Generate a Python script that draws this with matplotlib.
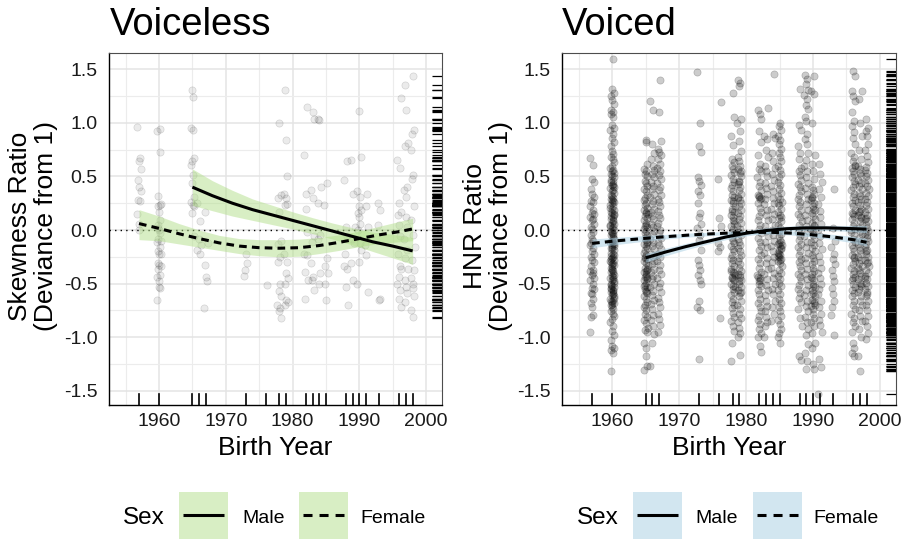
import numpy as np
import matplotlib
matplotlib.use("Agg")
import matplotlib.pyplot as plt
from matplotlib.collections import LineCollection
from matplotlib.transforms import blended_transform_factory
from matplotlib.patches import Rectangle

plt.rcParams['font.family'] = ['Liberation Sans', 'DejaVu Sans']

# ---------------- data ----------------
YEARS = [1957, 1960, 1965, 1966, 1967, 1973, 1976, 1978, 1979, 1982, 1983,
         1984, 1985, 1988, 1989, 1990, 1991, 1993, 1996, 1997, 1998]

# Voiceless: skewness ratio (deviance from 1), one list per birth year
vl_1957 = [0.96, 0.67, 0.64, 0.57, 0.47, 0.40, 0.36, 0.28, 0.27, 0.15, 0.06, 0.00]
vl_1960 = [0.94, 0.92, 0.73, 0.32, 0.24, 0.22, 0.17, 0.09, 0.05, 0.00, -0.03, -0.08,
           -0.11, -0.16, -0.22, -0.22, -0.31, -0.33, -0.34, -0.36, -0.42, -0.44, -0.48,
           -0.53, -0.54, -0.65, 0.23, 0.02, -0.10, -0.20]
vl_1965 = [1.31, 1.24, 0.95, 0.93, 0.67, 0.64, 0.61, 0.51, 0.44, 0.31, 0.26, 0.23, 0.22, 0.16, -0.06]
vl_1966 = [0.25, 0.08, -0.08, -0.14, -0.19, -0.22]
vl_1967 = [0.17, -0.12, -0.33, -0.44, -0.48, -0.73]
vl_1973 = [-0.22, -0.31, -0.37, -0.43]
vl_1976 = [-0.51]
vl_1978 = [1.00, 0.33, 0.30, 0.17, -0.10, -0.13, -0.25, -0.30, -0.50, -0.57, -0.62, -0.70,
           -0.73, -0.76, -0.82]
vl_1979 = [1.31, 0.84, 0.50, 0.34, 0.30, 0.24, 0.23, -0.22, -0.30, -0.40, -0.45, -0.50,
           -0.65, -0.67, -0.70]
vl_1982 = [1.15, 0.70, 0.34, 0.20, -0.02, -0.22, -0.23, -0.39, -0.47, -0.64]
vl_1983 = [1.10, 1.04, 0.37, 0.30, -0.06, -0.11, -0.31, -0.44, -0.47, -0.56]
vl_1984 = [1.04, 1.03, 0.40, 0.25, -0.05, -0.08, -0.40, -0.50]
vl_1985 = [0.44, 0.23, -0.26, -0.34, -0.40, -0.50, -0.65]
vl_1988 = [0.64, 0.47, 0.03, -0.06, -0.22, -0.34, -0.36, -0.53, -0.70]
vl_1989 = [0.65, 0.34, 0.03, -0.08, -0.12, -0.31, -0.47]
vl_1990 = [1.11, 0.68, 0.36, 0.31, 0.22, 0.19, 0.16, 0.12, 0.06, 0.00, -0.12, -0.19, -0.30, -0.50]
vl_1991 = [0.34, 0.22, 0.03, -0.14, -0.23, -0.58]
vl_1993 = [0.25, 0.19, 0.05, -0.64, -0.65]
vl_1996 = [1.23, 0.65, 0.58, 0.25, 0.17, 0.14, 0.05, -0.06, -0.22, -0.34, -0.36, -0.44,
           -0.50, -0.56, -0.64, -0.72]
vl_1997 = [1.35, 1.12, 0.81, 0.78, 0.40, 0.37, 0.31, 0.12, 0.03, -0.08, -0.19, -0.26,
           -0.36, -0.47, -0.53, -0.59, -0.67]
vl_1998 = [1.44, 0.93, 0.90, 0.75, 0.51, 0.48, 0.22, 0.09, -0.05, -0.16, -0.28, -0.37,
           -0.45, -0.50, -0.54, -0.62, -0.75, -0.81]

# Voiced: HNR ratio (deviance from 1), one list per birth year
vd_1957 = [0.67, 0.61, 0.48, 0.45, 0.38, 0.34, 0.31, 0.27, 0.26, 0.22, 0.19, 0.16, 0.15, 0.12,
           0.10, 0.09, 0.06, 0.03, 0.01, -0.02, -0.05, -0.08, -0.10, -0.12, -0.14, -0.17, -0.20,
           -0.22, -0.25, -0.28, -0.30, -0.34, -0.37, -0.38, -0.40, -0.42, -0.45, -0.47, -0.50,
           -0.54, -0.55, -0.59, -0.60, -0.64, -0.68, -0.72, -0.79, -0.81, -0.95]
vd_1960 = [1.60, 1.32, 1.28, 1.25, 1.21, 1.18, 1.12, 1.10, 1.08, 1.05, 0.98, 0.95, 0.93, 0.90,
           0.86, 0.82, 0.78, 0.74, 0.71, 0.68, 0.66, 0.63, 0.60, 0.58, 0.56, 0.55, 0.53, 0.52,
           0.50, 0.49, 0.47, 0.46, 0.45, 0.43, 0.42, 0.40, 0.39, 0.37, 0.36, 0.35, 0.33, 0.32,
           0.30, 0.29, 0.27, 0.26, 0.25, 0.23, 0.22, 0.20, 0.19, 0.17, 0.16, 0.15, 0.13, 0.12,
           0.10, 0.09, 0.07, 0.06, 0.05, 0.03, 0.02, 0.00, -0.01, -0.03, -0.04, -0.05, -0.07,
           -0.08, -0.10, -0.11, -0.12, -0.14, -0.15, -0.17, -0.18, -0.19, -0.21, -0.22, -0.24,
           -0.25, -0.26, -0.28, -0.29, -0.31, -0.32, -0.33, -0.35, -0.36, -0.38, -0.39, -0.40,
           -0.42, -0.43, -0.45, -0.46, -0.47, -0.49, -0.50, -0.52, -0.53, -0.55, -0.56, -0.58,
           -0.59, -0.61, -0.62, -0.64, -0.65, -0.67, -0.68, -0.70, -0.72, -0.74, -0.76, -0.78,
           -0.80, -0.83, -0.86, -0.90, -0.94, -0.98, -1.03, -1.08, -1.10, -1.12, -1.15, -1.32,
           0.41, 0.28, 0.14, 0.04, -0.06, -0.16, -0.23, -0.30, -0.37, -0.44, -0.51, -0.57,
           -0.63, -0.69, 0.21, 0.08, -0.02, -0.13, -0.27, -0.34, -0.48, -0.54, -0.60, -0.66]
vd_1965 = [0.84, 0.82, 0.62, 0.57, 0.55, 0.52, 0.50, 0.46, 0.44, 0.41, 0.38, 0.36, 0.33, 0.30,
           0.28, 0.25, 0.23, 0.21, 0.19, 0.17, 0.15, 0.13, 0.11, 0.09, 0.07, 0.05, 0.03, 0.01,
           -0.01, -0.03, -0.05, -0.07, -0.09, -0.11, -0.13, -0.15, -0.17, -0.19, -0.21, -0.23,
           -0.25, -0.27, -0.29, -0.31, -0.33, -0.35, -0.37, -0.39, -0.41, -0.43, -0.45, -0.47,
           -0.49, -0.51, -0.53, -0.55, -0.57, -0.59, -0.62, -0.64, -0.67, -0.70, -0.72, -0.75,
           -0.78, -0.81, -0.84, -0.87, -0.91, -0.93, -0.95, -1.05, -1.10, -1.18, -1.27, -1.31,
           0.16, 0.04, -0.12, -0.26, -0.38, -0.46, -0.52, -0.58, -0.36, -0.44]
vd_1966 = [1.20, 1.12, 0.80, 0.72, 0.66, 0.60, 0.56, 0.52, 0.49, 0.45, 0.41, 0.38, 0.34, 0.31,
           0.27, 0.24, 0.20, 0.17, 0.13, 0.10, 0.06, 0.03, -0.01, -0.04, -0.08, -0.11, -0.15,
           -0.18, -0.22, -0.25, -0.29, -0.32, -0.36, -0.39, -0.43, -0.46, -0.50, -0.53, -0.57,
           -0.61, -0.65, -0.69, -0.74, -0.79, -0.84, -0.90, -0.97, -1.05, -1.27]
vd_1967 = [1.40, 1.10, 0.83, 0.76, 0.73, 0.70, 0.66, 0.62, 0.58, 0.55, 0.51, 0.48, 0.44, 0.40,
           0.37, 0.33, 0.29, 0.26, 0.22, 0.18, 0.14, 0.11, 0.07, 0.04, 0.00, -0.03, -0.07, -0.11,
           -0.14, -0.18, -0.22, -0.25, -0.29, -0.33, -0.37, -0.41, -0.45, -0.49, -0.53, -0.58,
           -0.63, -0.67, -0.72, -0.78, -0.83, -0.89, -0.95]
vd_1973 = [1.47, 1.00, 0.78, 0.73, 0.49, 0.46, 0.42, 0.36, 0.33, 0.25, 0.16, 0.12, 0.06, 0.02,
           -0.05, -0.09, -0.19, -0.28, -0.33, -0.37, -0.42, -0.47, -0.50, -0.66, -0.72, -0.75, -1.20]
vd_1976 = [1.19, 0.48, 0.11, 0.04, -0.12, -0.16, -0.20, -0.82]
vd_1978 = [1.28, 1.05, 0.88, 0.79, 0.66, 0.63, 0.60, 0.57, 0.54, 0.51, 0.48, 0.45, 0.42, 0.39,
           0.36, 0.33, 0.31, 0.28, 0.25, 0.22, 0.20, 0.17, 0.14, 0.12, 0.09, 0.06, 0.04, 0.01,
           -0.02, -0.04, -0.07, -0.10, -0.12, -0.15, -0.18, -0.20, -0.23, -0.26, -0.28, -0.31,
           -0.34, -0.36, -0.39, -0.42, -0.44, -0.47, -0.50, -0.52, -0.55, -0.58, -0.61, -0.64,
           -0.67, -0.70, -0.73, -0.77, -0.81, -0.85, -0.90, -0.94, -1.05, -1.22, 0.27, 0.18,
           0.08, -0.38, -0.46, -0.53, -0.45, -0.40]
vd_1979 = [1.40, 1.37, 1.34, 1.04, 1.00, 0.92, 0.83, 0.74, 0.68, 0.64, 0.60, 0.57, 0.53, 0.50,
           0.46, 0.43, 0.40, 0.37, 0.34, 0.31, 0.28, 0.25, 0.22, 0.19, 0.16, 0.13, 0.10, 0.07,
           0.04, 0.01, -0.02, -0.05, -0.08, -0.11, -0.14, -0.17, -0.20, -0.23, -0.26, -0.29,
           -0.32, -0.35, -0.38, -0.41, -0.44, -0.47, -0.50, -0.53, -0.56, -0.59, -0.62, -0.66,
           -0.70, -0.74, -0.78, -0.82, -0.86, -0.91, -0.96, -1.00, -1.17, 0.55, 0.45, 0.30,
           -0.42, -0.48, -0.58]
vd_1982 = [1.12, 1.08, 1.04, 0.92, 0.82, 0.70, 0.62, 0.57, 0.55, 0.49, 0.45, 0.41, 0.37, 0.33,
           0.31, 0.29, 0.25, 0.21, 0.17, 0.13, 0.09, 0.05, 0.01, -0.03, -0.07, -0.11, -0.15,
           -0.19, -0.23, -0.27, -0.31, -0.35, -0.39, -0.42, -0.45, -0.48, -0.52, -0.56, -0.60,
           -0.64, -0.68, -0.72, -0.76, -0.80, -0.84, -0.88, -0.92, -0.96, -1.00, -1.08, -1.14,
           0.32, 0.30, -0.44, -0.47, -0.50]
vd_1983 = [1.14, 0.88, 0.85, 0.75, 0.68, 0.60, 0.55, 0.50, 0.44, 0.39, 0.34, 0.29, 0.24, 0.19,
           0.14, 0.09, 0.04, -0.01, -0.06, -0.11, -0.16, -0.21, -0.26, -0.31, -0.36, -0.41,
           -0.46, -0.51, -0.56, -0.61, -0.66, -0.71, -0.76, -0.81, -0.86, -0.90, -1.00]
vd_1984 = [1.46, 0.90, 0.86, 0.72, 0.64, 0.58, 0.52, 0.47, 0.41, 0.36, 0.30, 0.25, 0.20, 0.15,
           0.10, 0.05, 0.00, -0.05, -0.10, -0.15, -0.20, -0.25, -0.30, -0.35, -0.40, -0.45,
           -0.50, -0.55, -0.60, -0.66, -0.72, -0.78, -0.85]
vd_1985 = [1.00, 0.97, 0.93, 0.88, 0.84, 0.80, 0.76, 0.72, 0.68, 0.64, 0.60, 0.56, 0.52, 0.49,
           0.45, 0.42, 0.38, 0.35, 0.32, 0.29, 0.26, 0.23, 0.20, 0.17, 0.14, 0.11, 0.08, 0.05,
           0.02, -0.01, -0.04, -0.06, -0.09, -0.11, -0.13, -0.15, -0.17, -0.19, -0.21, -0.23,
           -0.25, -0.27, -0.29, -0.31, -0.34, -0.37, -0.40, -0.43, -0.46, -0.49, -0.52, -0.56,
           -0.60, -0.64, -0.68, -0.72, -0.76, -0.80, -0.84, -0.88, -0.92, -0.96, -1.00, -1.05,
           -0.12, -0.18, -0.24, -0.28, -0.14, -0.22, 0.12, 0.25]
vd_1988 = [1.32, 0.98, 0.93, 0.78, 0.72, 0.66, 0.58, 0.55, 0.51, 0.47, 0.43, 0.40, 0.36, 0.33,
           0.29, 0.26, 0.22, 0.19, 0.15, 0.12, 0.08, 0.05, 0.01, -0.02, -0.06, -0.09, -0.13,
           -0.16, -0.20, -0.23, -0.27, -0.30, -0.34, -0.37, -0.41, -0.44, -0.48, -0.51, -0.55,
           -0.59, -0.63, -0.67, -0.74, -0.82, -0.90, -1.18, -1.21]
vd_1989 = [1.45, 1.41, 1.36, 1.31, 1.26, 1.22, 1.17, 1.13, 1.05, 1.02, 0.90, 0.85, 0.80, 0.72,
           0.65, 0.60, 0.55, 0.49, 0.44, 0.39, 0.34, 0.29, 0.24, 0.19, 0.14, 0.09, 0.04, -0.01,
           -0.06, -0.11, -0.16, -0.21, -0.26, -0.31, -0.36, -0.41, -0.46, -0.51, -0.56, -0.61,
           -0.66, -0.71, -0.76, -0.81, -0.86, -0.92, -0.98, -1.06, -1.15, -1.22, -1.30]
vd_1990 = [1.44, 1.30, 1.27, 1.00, 0.70, 0.62, 0.55, 0.48, 0.40, 0.37, 0.34, 0.31, 0.28, 0.25,
           0.22, 0.19, 0.16, 0.13, 0.10, 0.07, 0.04, 0.01, -0.02, -0.05, -0.08, -0.11, -0.14,
           -0.17, -0.20, -0.23, -0.26, -0.29, -0.32, -0.35, -0.38, -0.41, -0.44, -0.47, -0.50,
           -0.53, -0.56, -0.59, -0.62, -0.65, -0.68, -0.71, -0.74, -0.78, -0.82, -0.86, -0.90,
           -0.96, -1.05, -1.10, -1.25, -1.30, 0.30, 0.20, 0.05, -0.45, -0.60, -0.66, -0.52, -0.70]
vd_1991 = [0.62, 0.52, 0.45, 0.38, 0.31, 0.24, 0.18, 0.12, 0.06, 0.00, -0.06, -0.12, -0.18,
           -0.24, -0.30, -0.35, -0.40, -0.45, -0.50, -0.55, -0.60, -0.66, -0.72, -0.78, -0.84,
           -0.89, -0.95, -1.20, -1.28, -1.53]
vd_1993 = [0.38, 0.02, -0.10, -0.16, -0.22, -0.27, -0.32, -0.37, -0.43, -0.48, -0.54, -0.60,
           -0.66, -0.72, -0.79, -0.98]
vd_1996 = [1.48, 1.44, 1.30, 1.25, 1.20, 1.10, 1.02, 0.97, 0.91, 0.86, 0.80, 0.72, 0.68, 0.64,
           0.61, 0.58, 0.55, 0.52, 0.49, 0.46, 0.43, 0.40, 0.37, 0.34, 0.31, 0.28, 0.25, 0.22,
           0.19, 0.16, 0.13, 0.10, 0.07, 0.04, 0.01, -0.02, -0.05, -0.08, -0.11, -0.14, -0.17,
           -0.20, -0.23, -0.26, -0.29, -0.32, -0.35, -0.38, -0.41, -0.44, -0.47, -0.50, -0.53,
           -0.56, -0.59, -0.62, -0.66, -0.70, -0.74, -0.78, -0.82, -0.86, -0.90, -0.95, -1.05,
           -1.10, -1.15, -1.18, 0.60, 0.15, 0.00, -0.25, -0.45]
vd_1997 = [1.30, 1.22, 1.00, 0.88, 0.75, 0.66, 0.60, 0.57, 0.53, 0.50, 0.47, 0.44, 0.41, 0.38,
           0.35, 0.32, 0.29, 0.26, 0.23, 0.20, 0.17, 0.14, 0.11, 0.08, 0.05, 0.02, -0.01, -0.04,
           -0.07, -0.10, -0.13, -0.16, -0.19, -0.22, -0.25, -0.28, -0.31, -0.34, -0.37, -0.40,
           -0.43, -0.46, -0.49, -0.52, -0.55, -0.58, -0.62, -0.66, -0.70, -0.75, -0.80, -0.85,
           -0.92, -1.00, -1.18, -1.32, 0.18, 0.12, -0.35, -0.50]
vd_1998 = [1.04, 0.95, 0.92, 0.88, 0.80, 0.75, 0.69, 0.63, 0.59, 0.56, 0.53, 0.50, 0.47, 0.44,
           0.41, 0.38, 0.35, 0.32, 0.29, 0.26, 0.23, 0.20, 0.17, 0.14, 0.11, 0.08, 0.05, 0.02,
           -0.01, -0.04, -0.07, -0.10, -0.13, -0.16, -0.19, -0.22, -0.25, -0.28, -0.31, -0.34,
           -0.37, -0.40, -0.43, -0.46, -0.49, -0.52, -0.55, -0.58, -0.62, -0.66, -0.70, -0.75,
           -0.80, -0.85, -0.90, -0.96, -1.02, 0.10, -0.05, -0.20, -0.30, -0.45, -0.60]

voiceless_points = [vl_1957, vl_1960, vl_1965, vl_1966, vl_1967, vl_1973, vl_1976, vl_1978,
                    vl_1979, vl_1982, vl_1983, vl_1984, vl_1985, vl_1988, vl_1989, vl_1990,
                    vl_1991, vl_1993, vl_1996, vl_1997, vl_1998]
voiced_points = [vd_1957, vd_1960, vd_1965, vd_1966, vd_1967, vd_1973, vd_1976, vd_1978,
                 vd_1979, vd_1982, vd_1983, vd_1984, vd_1985, vd_1988, vd_1989, vd_1990,
                 vd_1991, vd_1993, vd_1996, vd_1997, vd_1998]

# horizontal jitter (years) applied cyclically to the points
JITTER = [-0.28, 0.12, -0.05, 0.25, -0.18, 0.03, 0.30, -0.12, 0.18, -0.25, 0.07, -0.02,
          0.22, -0.30, 0.10, -0.08, 0.27, -0.15, 0.00, 0.15, -0.22, 0.05, 0.20, -0.10]

# fitted trends (Male / Female) with confidence bands
fit_x_male = [1965, 1968, 1971, 1974, 1977, 1980, 1983, 1986, 1989, 1992, 1995, 1998]
fit_x_female = [1957, 1960, 1963, 1966, 1969, 1972, 1975, 1978, 1981, 1984, 1987, 1990,
                1993, 1996, 1998]

vl_male = [0.40, 0.32, 0.25, 0.19, 0.14, 0.09, 0.04, -0.01, -0.06, -0.11, -0.15, -0.195]
vl_male_lo = [0.23, 0.18, 0.13, 0.09, 0.05, 0.01, -0.035, -0.085, -0.14, -0.20, -0.26, -0.32]
vl_male_hi = [0.57, 0.46, 0.37, 0.29, 0.23, 0.17, 0.115, 0.065, 0.02, -0.02, -0.04, -0.07]
vl_female = [0.06, 0.015, -0.035, -0.08, -0.12, -0.15, -0.165, -0.17, -0.165, -0.145,
             -0.115, -0.08, -0.045, -0.015, 0.01]
vl_female_lo = [-0.09, -0.10, -0.13, -0.16, -0.19, -0.22, -0.24, -0.25, -0.245, -0.22,
                -0.19, -0.155, -0.125, -0.11, -0.10]
vl_female_hi = [0.19, 0.13, 0.06, 0.00, -0.05, -0.08, -0.09, -0.09, -0.085, -0.07, -0.045,
                -0.01, 0.035, 0.08, 0.11]

vd_male = [-0.26, -0.205, -0.155, -0.11, -0.065, -0.03, -0.005, 0.012, 0.02, 0.02, 0.015, 0.008]
vd_male_lo = [-0.30, -0.24, -0.185, -0.135, -0.09, -0.055, -0.03, -0.012, -0.003, -0.003,
              -0.012, -0.025]
vd_male_hi = [-0.22, -0.17, -0.125, -0.085, -0.04, -0.005, 0.02, 0.036, 0.043, 0.043, 0.042, 0.041]
vd_female = [-0.125, -0.105, -0.088, -0.072, -0.058, -0.045, -0.035, -0.027, -0.022, -0.022,
             -0.03, -0.045, -0.065, -0.09, -0.115]
vd_female_lo = [-0.165, -0.14, -0.118, -0.097, -0.078, -0.063, -0.051, -0.042, -0.037, -0.038,
                -0.048, -0.065, -0.089, -0.12, -0.15]
vd_female_hi = [-0.085, -0.07, -0.058, -0.047, -0.038, -0.027, -0.019, -0.012, -0.007, -0.006,
                -0.012, -0.025, -0.041, -0.06, -0.08]

Y_TICKS = [-1.5, -1.0, -0.5, 0.0, 0.5, 1.0, 1.5]
Y_TICK_LABELS = ['-1.5', '-1.0', '-0.5', '0.0', '0.5', '1.0', '1.5']
X_TICKS = [1960, 1970, 1980, 1990, 2000]

# ---------------- figure ----------------
W, H = 905, 539
fig = plt.figure(figsize=(W / 100, H / 100), dpi=100)


def px_axes(left, right, top, bottom):
    return fig.add_axes([left / W, 1 - bottom / H, (right - left) / W, (bottom - top) / H])


def draw_panel(ax, points, fits, fill, face_alpha, edge_alpha):
    ax.set_xlim(1952.55, 2002.35)
    ax.set_ylim(-1.633, 1.649)
    ax.set_xticks(X_TICKS)
    ax.set_xticks([1955, 1965, 1975, 1985, 1995], minor=True)
    ax.set_yticks(Y_TICKS)
    ax.set_yticklabels(Y_TICK_LABELS)
    ax.set_yticks([-1.25, -0.75, -0.25, 0.25, 0.75, 1.25], minor=True)
    ax.grid(which='major', color='#e4e4e4', lw=1.1)
    ax.grid(which='minor', color='#ececec', lw=0.8)
    ax.set_axisbelow(True)
    ax.tick_params(which='both', length=0, labelsize=14, colors='#1a1a1a')
    ax.tick_params(axis='y', pad=8.6)
    ax.tick_params(axis='x', pad=5.8)
    for s in ['left', 'bottom']:
        ax.spines[s].set_color('black')
        ax.spines[s].set_linewidth(1.0)
    for s in ['top', 'right']:
        ax.spines[s].set_color('#4d4d4d')
        ax.spines[s].set_linewidth(0.8)

    xs, ys = [], []
    k = 0
    for yr, vals in zip(YEARS, points):
        for v in vals:
            xs.append(yr + JITTER[k % len(JITTER)])
            ys.append(v)
            k += 1
    ax.scatter(xs, ys, s=27, facecolors=(0, 0, 0, face_alpha),
               edgecolors=(0, 0, 0, edge_alpha), linewidths=0.5, zorder=2)

    ax.axhline(0, color='black', lw=1.0, ls=(0, (1, 3)), zorder=3)

    (mx, m, mlo, mhi), (fx, f, flo, fhi) = fits
    ax.fill_between(mx, mlo, mhi, color=fill, alpha=0.5, lw=0, zorder=4)
    ax.fill_between(fx, flo, fhi, color=fill, alpha=0.5, lw=0, zorder=4)
    ax.plot(mx, m, color='black', lw=2.2, solid_capstyle='butt', zorder=5)
    ax.plot(fx, f, color='black', lw=2.2, ls=(0, (2.5, 1.7)), dash_capstyle='butt', zorder=5)

    # rugs
    for yr in YEARS:
        ax.axvline(yr, ymin=0, ymax=0.03, color='black', lw=1.2, zorder=6)
    tr = blended_transform_factory(ax.transAxes, ax.transData)
    segs = [[(0.97, y), (1.0, y)] for y in ys]
    ax.add_collection(LineCollection(segs, colors='black', linewidths=0.9,
                                     transform=tr, zorder=6))


axL = px_axes(109.3, 441.7, 53.3, 405)
axR = px_axes(562.3, 895.7, 53.3, 405)

draw_panel(axL, voiceless_points,
           ((fit_x_male, vl_male, vl_male_lo, vl_male_hi),
            (fit_x_female, vl_female, vl_female_lo, vl_female_hi)),
           '#b2df8a', 0.08, 0.14)
draw_panel(axR, voiced_points,
           ((fit_x_male, vd_male, vd_male_lo, vd_male_hi),
            (fit_x_female, vd_female, vd_female_lo, vd_female_hi)),
           '#a6cee3', 0.2, 0.22)

# titles and axis labels
fig.text(110 / W, 1 - 35 / H, 'Voiceless', fontsize=27.5, ha='left', va='baseline')
fig.text(562 / W, 1 - 35 / H, 'Voiced', fontsize=27.5, ha='left', va='baseline')
fig.text(33 / W, 1 - 226 / H, 'Skewness Ratio\n(Deviance from 1)', rotation=90,
         fontsize=19, ha='center', va='center', multialignment='center', linespacing=1.1)
fig.text(488 / W, 1 - 226 / H, 'HNR Ratio\n(Deviance from 1)', rotation=90,
         fontsize=19, ha='center', va='center', multialignment='center', linespacing=1.1)
fig.text(275.5 / W, 1 - 455 / H, 'Birth Year', fontsize=19, ha='center', va='baseline')
fig.text(729 / W, 1 - 455 / H, 'Birth Year', fontsize=19, ha='center', va='baseline')

# legends
lax = fig.add_axes([0, 0, 1, 1])
lax.set_xlim(0, W)
lax.set_ylim(H, 0)
lax.axis('off')
for cx, fill in [(275.5, '#b2df8a'), (729, '#a6cee3')]:
    lax.text(cx - 152.5, 524, 'Sex', fontsize=17.5, ha='left', va='baseline')
    lax.add_patch(Rectangle((cx - 96.5, 492), 49, 47, facecolor=fill, alpha=0.5, lw=0))
    lax.plot([cx - 92.5, cx - 51.5], [515, 515], color='black', lw=2.2, solid_capstyle='butt')
    lax.text(cx - 33.5, 523, 'Male', fontsize=14, ha='left', va='baseline')
    lax.add_patch(Rectangle((cx + 23.5, 492), 49, 47, facecolor=fill, alpha=0.5, lw=0))
    lax.plot([cx + 27.5, cx + 68.5], [515, 515], color='black', lw=2.2,
             ls=(0, (2.95, 2.3)), dash_capstyle='butt')
    lax.text(cx + 84.5, 523, 'Female', fontsize=14, ha='left', va='baseline')

fig.savefig('out.png', dpi=100)
